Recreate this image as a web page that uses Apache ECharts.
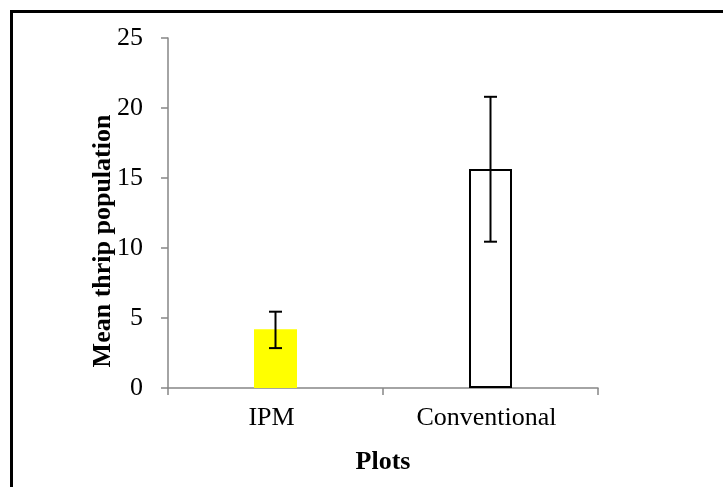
<!DOCTYPE html>
<html>
<head>
<meta charset="utf-8">
<script src="https://cdn.jsdelivr.net/npm/echarts@6/dist/echarts.min.js"></script>
<style>html,body{margin:0;padding:0;background:#fff}#c{width:723px;height:487px}</style>
</head>
<body>
<div id="c"></div>
<script>
var categories = ['IPM', 'Conventional'];
var means = [4.2, 15.65];
var errLow = [2.85, 10.45];
var errHigh = [5.45, 20.8];
var yTicks = [0, 5, 10, 15, 20, 25];

var FONT = '"Liberation Serif", "Times New Roman", serif';
var chart = echarts.init(document.getElementById('c'), null, {renderer: 'canvas'});
var barColors = ['#FFFF00', '#FFFFFF'];
var barBorders = [0, 2];

chart.setOption({
  animation: false,
  backgroundColor: '#fff',
  grid: {left: 168, top: 38, right: 125, bottom: 99, containLabel: false},
  xAxis: {
    type: 'category',
    data: categories,
    name: 'Plots',
    nameLocation: 'middle',
    nameGap: 61,
    nameMoveOverlap: false,
    nameTextStyle: {fontFamily: FONT, fontSize: 26, fontWeight: 'bold', color: '#000'},
    axisLine: {lineStyle: {color: '#868686', width: 1.5}},
    axisTick: {show: true, length: 7, lineStyle: {color: '#868686', width: 1.5}},
    axisLabel: {fontFamily: FONT, fontSize: 26, color: '#000', margin: 17, padding: [0, 8, 0, 0]}
  },
  yAxis: {
    type: 'value',
    min: yTicks[0], max: yTicks[yTicks.length - 1], interval: 5,
    name: 'Mean thrip population',
    nameLocation: 'middle',
    nameGap: 52,
    nameMoveOverlap: false,
    nameTextStyle: {fontFamily: FONT, fontSize: 26, fontWeight: 'bold', color: '#000', padding: [0, 56, 0, 0]},
    axisLine: {show: true, lineStyle: {color: '#868686', width: 1.5}},
    axisTick: {show: true, length: 7, lineStyle: {color: '#868686', width: 1.5}},
    splitLine: {show: false},
    axisLabel: {fontFamily: FONT, fontSize: 26, color: '#000', margin: 25}
  },
  series: [
    {
      type: 'bar',
      barWidth: 43,
      data: means.map(function (v, i) {
        return {value: v, itemStyle: {color: barColors[i], borderColor: '#000', borderWidth: barBorders[i]}};
      }),
      z: 2
    },
    {
      type: 'custom',
      z: 5,
      data: categories.map(function (c, i) { return [i, errLow[i], errHigh[i]]; }),
      renderItem: function (params, api) {
        var x = api.value(0);
        var lo = api.coord([x, api.value(1)]);
        var hi = api.coord([x, api.value(2)]);
        var half = 6.5;
        var st = {stroke: '#000', lineWidth: 2};
        return {
          type: 'group',
          children: [
            {type: 'line', shape: {x1: hi[0], y1: hi[1], x2: lo[0], y2: lo[1]}, style: st},
            {type: 'line', shape: {x1: hi[0] - half, y1: hi[1], x2: hi[0] + half, y2: hi[1]}, style: st},
            {type: 'line', shape: {x1: lo[0] - half, y1: lo[1], x2: lo[0] + half, y2: lo[1]}, style: st}
          ]
        };
      }
    }
  ],
  graphic: [
    {type: 'rect', shape: {x: 11.5, y: 11.5, width: 800, height: 600}, style: {fill: 'none', stroke: '#000', lineWidth: 3}, z: 100}
  ]
});
</script>
</body>
</html>
